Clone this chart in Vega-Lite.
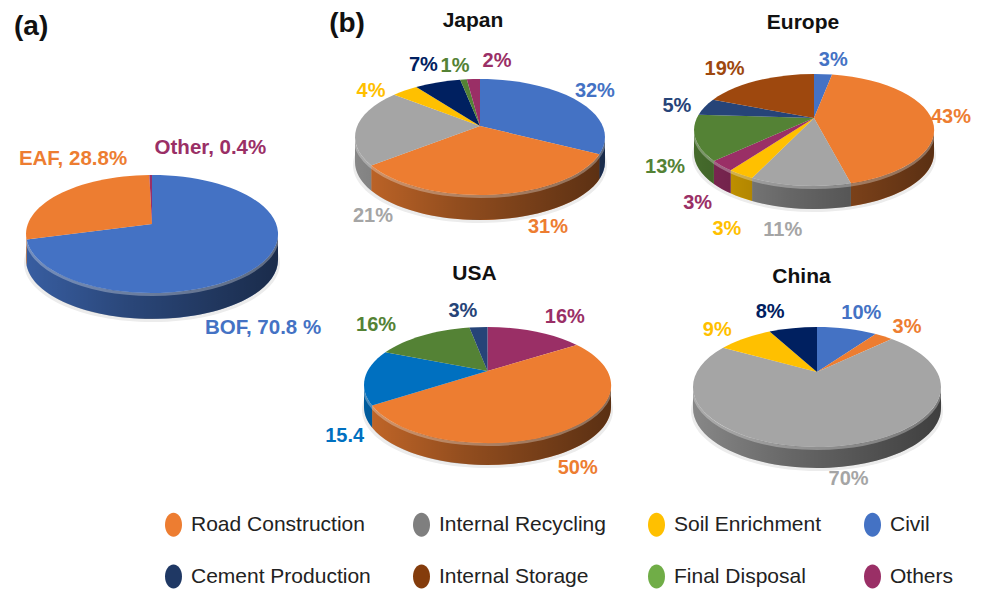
{
"$schema":"https://vega.github.io/schema/vega-lite/v6.json",
"padding":0,"background":"white","spacing":0,
"resolve":{"scale":{"color":"independent"},"legend":{"color":"independent"}},
"config":{"font":"Liberation Sans","view":{"stroke":null},"title":{"font":"Liberation Sans","fontWeight":"bold","color":"#111111"}},
"datasets":{"slices":[
{"panel":"Steel","order":1,"category":"BOF","share":70.8,"label":"BOF, 70.8 %"},
{"panel":"Steel","order":2,"category":"EAF","share":28.8,"label":"EAF, 28.8%"},
{"panel":"Steel","order":3,"category":"Other","share":0.4,"label":"Other, 0.4%"},
{"panel":"Japan","order":1,"category":"Civil","share":32,"label":"32%"},
{"panel":"Japan","order":2,"category":"Road Construction","share":31,"label":"31%"},
{"panel":"Japan","order":3,"category":"Internal Recycling","share":21,"label":"21%"},
{"panel":"Japan","order":4,"category":"Soil Enrichment","share":4,"label":"4%"},
{"panel":"Japan","order":5,"category":"Cement Production","share":7,"label":"7%"},
{"panel":"Japan","order":6,"category":"Final Disposal","share":1,"label":"1%"},
{"panel":"Japan","order":7,"category":"Others","share":2,"label":"2%"},
{"panel":"Europe","order":1,"category":"Civil","share":3,"label":"3%"},
{"panel":"Europe","order":2,"category":"Road Construction","share":43,"label":"43%"},
{"panel":"Europe","order":3,"category":"Internal Recycling","share":11,"label":"11%"},
{"panel":"Europe","order":4,"category":"Soil Enrichment","share":3,"label":"3%"},
{"panel":"Europe","order":5,"category":"Others","share":3,"label":"3%"},
{"panel":"Europe","order":6,"category":"Final Disposal","share":13,"label":"13%"},
{"panel":"Europe","order":7,"category":"Cement Production","share":5,"label":"5%"},
{"panel":"Europe","order":8,"category":"Internal Storage","share":19,"label":"19%"},
{"panel":"USA","order":1,"category":"Others","share":16,"label":"16%"},
{"panel":"USA","order":2,"category":"Road Construction","share":50,"label":"50%"},
{"panel":"USA","order":3,"category":"Unspecified","share":15.4,"label":"15.4"},
{"panel":"USA","order":4,"category":"Final Disposal","share":16,"label":"16%"},
{"panel":"USA","order":5,"category":"Cement Production","share":3,"label":"3%"},
{"panel":"China","order":1,"category":"Civil","share":10,"label":"10%"},
{"panel":"China","order":2,"category":"Road Construction","share":3,"label":"3%"},
{"panel":"China","order":3,"category":"Internal Recycling","share":70,"label":"70%"},
{"panel":"China","order":4,"category":"Soil Enrichment","share":9,"label":"9%"},
{"panel":"China","order":5,"category":"Cement Production","share":8,"label":"8%"}
]},
"vconcat":[
{"spacing":0,"resolve":{"scale":{"color":"independent"},"legend":{"color":"independent"}},"hconcat":[
{"width":324,"height":500,"data":{"name":"slices"},
"title":{"text":"(a)","anchor":"start","frame":"group","fontSize":28,"baseline":"middle","offset":0,"dx":14,"dy":55},
"transform":[
{"filter":"datum.panel=='Steel'"},
{"calculate":"0","as":"origin"},
{"joinaggregate":[{"op":"sum","field":"share","as":"total"}]},
{"window":[{"op":"sum","field":"share","as":"cum"}],"sort":[{"field":"order"}]},
{"calculate":"2*PI*(datum.cum-datum.share)/datum.total","as":"t0"},
{"calculate":"2*PI*datum.cum/datum.total","as":"t1"},
{"calculate":"(datum.t0+datum.t1)/2","as":"mid"},
{"calculate":"(atan2(sin(datum.t0)*sqrt(1-0.17*0.17),cos(datum.t0)+0.17)+2*PI)%(2*PI)","as":"a0"},
{"calculate":"(atan2(sin(datum.t1)*sqrt(1-0.17*0.17),cos(datum.t1)+0.17)+2*PI)%(2*PI)","as":"a1"},
{"calculate":"max(datum.a0,PI/2)","as":"s0"},
{"calculate":"min(datum.a1,3*PI/2)","as":"s1"},
{"calculate":"'M0,-10L'+round(1260*sin(datum.a0))/10+','+round(-590*cos(datum.a0))/10+'A126,59 0 '+(datum.a1-datum.a0>PI?1:0)+' 1 '+round(1260*sin(datum.a1))/10+','+round(-590*cos(datum.a1))/10+'Z'","as":"topPath"},
{"calculate":"'M'+round(1260*sin(datum.s0))/10+','+round(-590*cos(datum.s0))/10+'A126,59 0 0 1 '+round(1260*sin(datum.s1))/10+','+round(-590*cos(datum.s1))/10+'L'+round(1260*sin(datum.s1))/10+','+(round(-590*cos(datum.s1))/10+26)+'A126,59 0 0 0 '+round(1260*sin(datum.s0))/10+','+(round(-590*cos(datum.s0))/10+26)+'Z'","as":"sidePath"},
{"calculate":"{'BOF':[11,58],'EAF':[22,-40],'Other':[60,-27]}[datum.category]","as":"nudge"},
{"calculate":"126*sin(datum.mid)+datum.nudge[0]","as":"lx"},
{"calculate":"-59*cos(datum.mid)+datum.nudge[1]","as":"ly"}
],
"encoding":{
"x":{"field":"origin","type":"quantitative","scale":{"domain":[-152,172],"nice":false,"zero":false},"axis":null},
"y":{"field":"origin","type":"quantitative","scale":{"domain":[266,-234],"nice":false,"zero":false},"axis":null}},
"layer":[
{"transform":[{"aggregate":[{"op":"count","as":"n"}],"groupby":["origin"]}],"mark":{"type":"point","filled":true,"size":4,"opacity":1,"strokeWidth":0,"fill":"#ececec","shape":"M-128,29A128,59 0 1 0 128,29A128,59 0 1 0 -128,29Z"}},
{"transform":[{"filter":"datum.s1>datum.s0"}],"mark":{"type":"point","filled":true,"size":4,"opacity":1,"strokeWidth":0},
"encoding":{"shape":{"field":"sidePath","type":"nominal","scale":null,"legend":null},
"color":{"field":"category","type":"nominal","legend":null,"scale":{"domain":["BOF","EAF","Other"],"range":["#4472C4","#ED7D31","#9A2F66"]}}}},
{"transform":[{"aggregate":[{"op":"count","as":"n"}],"groupby":["origin"]}],"mark":{"type":"point","filled":true,"size":4,"opacity":1,"strokeWidth":0,"shape":"M-126,0A126,59 0 0 0 126,0L126,26A126,59 0 0 1 -126,26Z","fill":{"gradient":"linear","x1":0,"y1":0,"x2":1,"y2":0,"stops":[{"offset":0,"color":"rgba(0,0,0,0.18)"},{"offset":0.4,"color":"rgba(0,0,0,0.38)"},{"offset":1,"color":"rgba(0,0,0,0.62)"}]}}},
{"transform":[{"aggregate":[{"op":"count","as":"n"}],"groupby":["origin"]}],"mark":{"type":"point","filled":false,"size":4,"opacity":0.3,"stroke":"white","strokeWidth":3,"shape":"M-126,1.5A126,59 0 0 0 126,1.5"}},
{"mark":{"type":"point","filled":true,"size":4,"opacity":1,"strokeWidth":0},
"encoding":{"shape":{"field":"topPath","type":"nominal","scale":null,"legend":null},
"color":{"field":"category","type":"nominal","legend":null,"scale":{"domain":["BOF","EAF","Other"],"range":["#4472C4","#ED7D31","#9A2F66"]}}}},
{"mark":{"type":"text","fontSize":20.5,"fontWeight":"bold","align":"center","baseline":"middle"},
"encoding":{"x":{"field":"lx","type":"quantitative"},"y":{"field":"ly","type":"quantitative"},
"text":{"field":"label"},
"color":{"field":"category","type":"nominal","legend":null,"scale":{"domain":["BOF","EAF","Other"],"range":["#4472C4","#ED7D31","#9A2F66"]}}}}
]},
{"spacing":0,"resolve":{"scale":{"color":"independent"},"legend":{"color":"independent"}},"vconcat":[
{"spacing":0,"resolve":{"scale":{"color":"independent"},"legend":{"color":"independent"}},"hconcat":[
{"width":316,"height":254,"data":{"name":"slices"},
"title":{"text":"Japan","anchor":"middle","frame":"group","fontSize":21,"baseline":"middle","offset":0,"dx":-9,"dy":42},
"transform":[
{"filter":"datum.panel=='Japan'"},
{"calculate":"0","as":"origin"},
{"joinaggregate":[{"op":"sum","field":"share","as":"total"}]},
{"window":[{"op":"sum","field":"share","as":"cum"}],"sort":[{"field":"order"}]},
{"calculate":"2*PI*(datum.cum-datum.share)/datum.total","as":"t0"},
{"calculate":"2*PI*datum.cum/datum.total","as":"t1"},
{"calculate":"(datum.t0+datum.t1)/2","as":"mid"},
{"calculate":"(atan2(sin(datum.t0)*sqrt(1-0.19*0.19),cos(datum.t0)+0.19)+2*PI)%(2*PI)","as":"a0"},
{"calculate":"(atan2(sin(datum.t1)*sqrt(1-0.19*0.19),cos(datum.t1)+0.19)+2*PI)%(2*PI)","as":"a1"},
{"calculate":"max(datum.a0,PI/2)","as":"s0"},
{"calculate":"min(datum.a1,3*PI/2)","as":"s1"},
{"calculate":"'M0,-11L'+round(1250*sin(datum.a0))/10+','+round(-580*cos(datum.a0))/10+'A125,58 0 '+(datum.a1-datum.a0>PI?1:0)+' 1 '+round(1250*sin(datum.a1))/10+','+round(-580*cos(datum.a1))/10+'Z'","as":"topPath"},
{"calculate":"'M'+round(1250*sin(datum.s0))/10+','+round(-580*cos(datum.s0))/10+'A125,58 0 0 1 '+round(1250*sin(datum.s1))/10+','+round(-580*cos(datum.s1))/10+'L'+round(1250*sin(datum.s1))/10+','+(round(-580*cos(datum.s1))/10+25)+'A125,58 0 0 0 '+round(1250*sin(datum.s0))/10+','+(round(-580*cos(datum.s0))/10+25)+'Z'","as":"sidePath"},
{"calculate":"{'Civil':[8,-16],'Road Construction':[56,32],'Internal Recycling':[18,79],'Soil Enrichment':[-22,-4],'Cement Production':[-6,-19],'Final Disposal':[-5,-14],'Others':[25,-18]}[datum.category]","as":"nudge"},
{"calculate":"125*sin(datum.mid)+datum.nudge[0]","as":"lx"},
{"calculate":"-58*cos(datum.mid)+datum.nudge[1]","as":"ly"}
],
"encoding":{
"x":{"field":"origin","type":"quantitative","scale":{"domain":[-156,160],"nice":false,"zero":false},"axis":null},
"y":{"field":"origin","type":"quantitative","scale":{"domain":[117,-137],"nice":false,"zero":false},"axis":null}},
"layer":[
{"transform":[{"aggregate":[{"op":"count","as":"n"}],"groupby":["origin"]}],"mark":{"type":"point","filled":true,"size":4,"opacity":1,"strokeWidth":0,"fill":"#ececec","shape":"M-127,28A127,58 0 1 0 127,28A127,58 0 1 0 -127,28Z"}},
{"transform":[{"filter":"datum.s1>datum.s0"}],"mark":{"type":"point","filled":true,"size":4,"opacity":1,"strokeWidth":0},
"encoding":{"shape":{"field":"sidePath","type":"nominal","scale":null,"legend":null},
"color":{"field":"category","type":"nominal","legend":null,"scale":{"domain":["Civil","Road Construction","Internal Recycling","Soil Enrichment","Cement Production","Final Disposal","Others"],"range":["#4472C4","#ED7D31","#A5A5A5","#FFC000","#002060","#548235","#9A2F66"]}}}},
{"transform":[{"aggregate":[{"op":"count","as":"n"}],"groupby":["origin"]}],"mark":{"type":"point","filled":true,"size":4,"opacity":1,"strokeWidth":0,"shape":"M-125,0A125,58 0 0 0 125,0L125,25A125,58 0 0 1 -125,25Z","fill":{"gradient":"linear","x1":0,"y1":0,"x2":1,"y2":0,"stops":[{"offset":0,"color":"rgba(0,0,0,0.18)"},{"offset":0.4,"color":"rgba(0,0,0,0.38)"},{"offset":1,"color":"rgba(0,0,0,0.62)"}]}}},
{"transform":[{"aggregate":[{"op":"count","as":"n"}],"groupby":["origin"]}],"mark":{"type":"point","filled":false,"size":4,"opacity":0.3,"stroke":"white","strokeWidth":3,"shape":"M-125,1.5A125,58 0 0 0 125,1.5"}},
{"mark":{"type":"point","filled":true,"size":4,"opacity":1,"strokeWidth":0},
"encoding":{"shape":{"field":"topPath","type":"nominal","scale":null,"legend":null},
"color":{"field":"category","type":"nominal","legend":null,"scale":{"domain":["Civil","Road Construction","Internal Recycling","Soil Enrichment","Cement Production","Final Disposal","Others"],"range":["#4472C4","#ED7D31","#A5A5A5","#FFC000","#002060","#548235","#9A2F66"]}}}},
{"mark":{"type":"text","fontSize":20,"fontWeight":"bold","align":"center","baseline":"middle"},
"encoding":{"x":{"field":"lx","type":"quantitative"},"y":{"field":"ly","type":"quantitative"},
"text":{"field":"label"},
"color":{"field":"category","type":"nominal","legend":null,"scale":{"domain":["Civil","Road Construction","Internal Recycling","Soil Enrichment","Cement Production","Final Disposal","Others"],"range":["#4472C4","#ED7D31","#A5A5A5","#FFC000","#002060","#548235","#9A2F66"]}}}},
{"transform":[{"aggregate":[{"op":"count","as":"n"}],"groupby":["origin"]}],"mark":{"type":"text","text":"(b)","fontSize":28,"fontWeight":"bold","color":"#111111","align":"center","baseline":"middle","dx":-133,"dy":-113}}
]},
{"width":344,"height":254,"data":{"name":"slices"},
"title":{"text":"Europe","anchor":"middle","frame":"group","fontSize":21,"baseline":"middle","offset":0,"dx":-9,"dy":44},
"transform":[
{"filter":"datum.panel=='Europe'"},
{"calculate":"0","as":"origin"},
{"joinaggregate":[{"op":"sum","field":"share","as":"total"}]},
{"window":[{"op":"sum","field":"share","as":"cum"}],"sort":[{"field":"order"}]},
{"calculate":"2*PI*(datum.cum-datum.share)/datum.total","as":"t0"},
{"calculate":"2*PI*datum.cum/datum.total","as":"t1"},
{"calculate":"(datum.t0+datum.t1)/2","as":"mid"},
{"calculate":"(atan2(sin(datum.t0)*sqrt(1-0.214*0.214),cos(datum.t0)+0.214)+2*PI)%(2*PI)","as":"a0"},
{"calculate":"(atan2(sin(datum.t1)*sqrt(1-0.214*0.214),cos(datum.t1)+0.214)+2*PI)%(2*PI)","as":"a1"},
{"calculate":"max(datum.a0,PI/2)","as":"s0"},
{"calculate":"min(datum.a1,3*PI/2)","as":"s1"},
{"calculate":"'M0,-12L'+round(1200*sin(datum.a0))/10+','+round(-560*cos(datum.a0))/10+'A120,56 0 '+(datum.a1-datum.a0>PI?1:0)+' 1 '+round(1200*sin(datum.a1))/10+','+round(-560*cos(datum.a1))/10+'Z'","as":"topPath"},
{"calculate":"'M'+round(1200*sin(datum.s0))/10+','+round(-560*cos(datum.s0))/10+'A120,56 0 0 1 '+round(1200*sin(datum.s1))/10+','+round(-560*cos(datum.s1))/10+'L'+round(1200*sin(datum.s1))/10+','+(round(-560*cos(datum.s1))/10+23)+'A120,56 0 0 0 '+round(1200*sin(datum.s0))/10+','+(round(-560*cos(datum.s0))/10+23)+'Z'","as":"sidePath"},
{"calculate":"{'Civil':[8,-14],'Road Construction':[17,-11],'Internal Recycling':[-20,44],'Soil Enrichment':[-26,51],'Others':[-37,31],'Final Disposal':[-36,18],'Cement Production':[-20,-12],'Internal Storage':[-22,-15]}[datum.category]","as":"nudge"},
{"calculate":"120*sin(datum.mid)+datum.nudge[0]","as":"lx"},
{"calculate":"-56*cos(datum.mid)+datum.nudge[1]","as":"ly"}
],
"encoding":{
"x":{"field":"origin","type":"quantitative","scale":{"domain":[-174,170],"nice":false,"zero":false},"axis":null},
"y":{"field":"origin","type":"quantitative","scale":{"domain":[124,-130],"nice":false,"zero":false},"axis":null}},
"layer":[
{"transform":[{"aggregate":[{"op":"count","as":"n"}],"groupby":["origin"]}],"mark":{"type":"point","filled":true,"size":4,"opacity":1,"strokeWidth":0,"fill":"#ececec","shape":"M-122,26A122,56 0 1 0 122,26A122,56 0 1 0 -122,26Z"}},
{"transform":[{"filter":"datum.s1>datum.s0"}],"mark":{"type":"point","filled":true,"size":4,"opacity":1,"strokeWidth":0},
"encoding":{"shape":{"field":"sidePath","type":"nominal","scale":null,"legend":null},
"color":{"field":"category","type":"nominal","legend":null,"scale":{"domain":["Civil","Road Construction","Internal Recycling","Soil Enrichment","Others","Final Disposal","Cement Production","Internal Storage"],"range":["#4472C4","#ED7D31","#A5A5A5","#FFC000","#9A2F66","#548235","#264478","#9E480E"]}}}},
{"transform":[{"aggregate":[{"op":"count","as":"n"}],"groupby":["origin"]}],"mark":{"type":"point","filled":true,"size":4,"opacity":1,"strokeWidth":0,"shape":"M-120,0A120,56 0 0 0 120,0L120,23A120,56 0 0 1 -120,23Z","fill":{"gradient":"linear","x1":0,"y1":0,"x2":1,"y2":0,"stops":[{"offset":0,"color":"rgba(0,0,0,0.18)"},{"offset":0.4,"color":"rgba(0,0,0,0.38)"},{"offset":1,"color":"rgba(0,0,0,0.62)"}]}}},
{"transform":[{"aggregate":[{"op":"count","as":"n"}],"groupby":["origin"]}],"mark":{"type":"point","filled":false,"size":4,"opacity":0.3,"stroke":"white","strokeWidth":3,"shape":"M-120,1.5A120,56 0 0 0 120,1.5"}},
{"mark":{"type":"point","filled":true,"size":4,"opacity":1,"strokeWidth":0},
"encoding":{"shape":{"field":"topPath","type":"nominal","scale":null,"legend":null},
"color":{"field":"category","type":"nominal","legend":null,"scale":{"domain":["Civil","Road Construction","Internal Recycling","Soil Enrichment","Others","Final Disposal","Cement Production","Internal Storage"],"range":["#4472C4","#ED7D31","#A5A5A5","#FFC000","#9A2F66","#548235","#264478","#9E480E"]}}}},
{"mark":{"type":"text","fontSize":20,"fontWeight":"bold","align":"center","baseline":"middle"},
"encoding":{"x":{"field":"lx","type":"quantitative"},"y":{"field":"ly","type":"quantitative"},
"text":{"field":"label"},
"color":{"field":"category","type":"nominal","legend":null,"scale":{"domain":["Civil","Road Construction","Internal Recycling","Soil Enrichment","Others","Final Disposal","Cement Production","Internal Storage"],"range":["#4472C4","#ED7D31","#A5A5A5","#FFC000","#9A2F66","#548235","#264478","#9E480E"]}}}}
]}
]},
{"spacing":0,"resolve":{"scale":{"color":"independent"},"legend":{"color":"independent"}},"hconcat":[
{"width":347,"height":246,"data":{"name":"slices"},
"title":{"text":"USA","anchor":"middle","frame":"group","fontSize":21,"baseline":"middle","offset":0,"dx":-23,"dy":41},
"transform":[
{"filter":"datum.panel=='USA'"},
{"calculate":"0","as":"origin"},
{"joinaggregate":[{"op":"sum","field":"share","as":"total"}]},
{"window":[{"op":"sum","field":"share","as":"cum"}],"sort":[{"field":"order"}]},
{"calculate":"2*PI*(datum.cum-datum.share)/datum.total","as":"t0"},
{"calculate":"2*PI*datum.cum/datum.total","as":"t1"},
{"calculate":"(datum.t0+datum.t1)/2","as":"mid"},
{"calculate":"(atan2(sin(datum.t0)*sqrt(1-0.241*0.241),cos(datum.t0)+0.241)+2*PI)%(2*PI)","as":"a0"},
{"calculate":"(atan2(sin(datum.t1)*sqrt(1-0.241*0.241),cos(datum.t1)+0.241)+2*PI)%(2*PI)","as":"a1"},
{"calculate":"max(datum.a0,PI/2)","as":"s0"},
{"calculate":"min(datum.a1,3*PI/2)","as":"s1"},
{"calculate":"'M0,-14L'+round(1235*sin(datum.a0))/10+','+round(-580*cos(datum.a0))/10+'A123.5,58 0 '+(datum.a1-datum.a0>PI?1:0)+' 1 '+round(1235*sin(datum.a1))/10+','+round(-580*cos(datum.a1))/10+'Z'","as":"topPath"},
{"calculate":"'M'+round(1235*sin(datum.s0))/10+','+round(-580*cos(datum.s0))/10+'A123.5,58 0 0 1 '+round(1235*sin(datum.s1))/10+','+round(-580*cos(datum.s1))/10+'L'+round(1235*sin(datum.s1))/10+','+(round(-580*cos(datum.s1))/10+22)+'A123.5,58 0 0 0 '+round(1235*sin(datum.s0))/10+','+(round(-580*cos(datum.s0))/10+22)+'Z'","as":"sidePath"},
{"calculate":"{'Others':[18,-17],'Road Construction':[23,34],'Unspecified':[-20,45],'Final Disposal':[-33,-15],'Cement Production':[-13,-16]}[datum.category]","as":"nudge"},
{"calculate":"123.5*sin(datum.mid)+datum.nudge[0]","as":"lx"},
{"calculate":"-58*cos(datum.mid)+datum.nudge[1]","as":"ly"}
],
"encoding":{
"x":{"field":"origin","type":"quantitative","scale":{"domain":[-163.5,183.5],"nice":false,"zero":false},"axis":null},
"y":{"field":"origin","type":"quantitative","scale":{"domain":[115,-131],"nice":false,"zero":false},"axis":null}},
"layer":[
{"transform":[{"aggregate":[{"op":"count","as":"n"}],"groupby":["origin"]}],"mark":{"type":"point","filled":true,"size":4,"opacity":1,"strokeWidth":0,"fill":"#ececec","shape":"M-125.5,25A125.5,58 0 1 0 125.5,25A125.5,58 0 1 0 -125.5,25Z"}},
{"transform":[{"filter":"datum.s1>datum.s0"}],"mark":{"type":"point","filled":true,"size":4,"opacity":1,"strokeWidth":0},
"encoding":{"shape":{"field":"sidePath","type":"nominal","scale":null,"legend":null},
"color":{"field":"category","type":"nominal","legend":null,"scale":{"domain":["Others","Road Construction","Unspecified","Final Disposal","Cement Production"],"range":["#9A2F66","#ED7D31","#0070C0","#548235","#264478"]}}}},
{"transform":[{"aggregate":[{"op":"count","as":"n"}],"groupby":["origin"]}],"mark":{"type":"point","filled":true,"size":4,"opacity":1,"strokeWidth":0,"shape":"M-123.5,0A123.5,58 0 0 0 123.5,0L123.5,22A123.5,58 0 0 1 -123.5,22Z","fill":{"gradient":"linear","x1":0,"y1":0,"x2":1,"y2":0,"stops":[{"offset":0,"color":"rgba(0,0,0,0.18)"},{"offset":0.4,"color":"rgba(0,0,0,0.38)"},{"offset":1,"color":"rgba(0,0,0,0.62)"}]}}},
{"transform":[{"aggregate":[{"op":"count","as":"n"}],"groupby":["origin"]}],"mark":{"type":"point","filled":false,"size":4,"opacity":0.3,"stroke":"white","strokeWidth":3,"shape":"M-123.5,1.5A123.5,58 0 0 0 123.5,1.5"}},
{"mark":{"type":"point","filled":true,"size":4,"opacity":1,"strokeWidth":0},
"encoding":{"shape":{"field":"topPath","type":"nominal","scale":null,"legend":null},
"color":{"field":"category","type":"nominal","legend":null,"scale":{"domain":["Others","Road Construction","Unspecified","Final Disposal","Cement Production"],"range":["#9A2F66","#ED7D31","#0070C0","#548235","#264478"]}}}},
{"mark":{"type":"text","fontSize":20,"fontWeight":"bold","align":"center","baseline":"middle"},
"encoding":{"x":{"field":"lx","type":"quantitative"},"y":{"field":"ly","type":"quantitative"},
"text":{"field":"label"},
"color":{"field":"category","type":"nominal","legend":null,"scale":{"domain":["Others","Road Construction","Unspecified","Final Disposal","Cement Production"],"range":["#9A2F66","#ED7D31","#0070C0","#548235","#264478"]}}}}
]},
{"width":313,"height":246,"data":{"name":"slices"},
"title":{"text":"China","anchor":"middle","frame":"group","fontSize":21,"baseline":"middle","offset":0,"dx":-26,"dy":44},
"transform":[
{"filter":"datum.panel=='China'"},
{"calculate":"0","as":"origin"},
{"joinaggregate":[{"op":"sum","field":"share","as":"total"}]},
{"window":[{"op":"sum","field":"share","as":"cum"}],"sort":[{"field":"order"}]},
{"calculate":"2*PI*(datum.cum-datum.share)/datum.total","as":"t0"},
{"calculate":"2*PI*datum.cum/datum.total","as":"t1"},
{"calculate":"(datum.t0+datum.t1)/2","as":"mid"},
{"calculate":"(atan2(sin(datum.t0)*sqrt(1-0.25*0.25),cos(datum.t0)+0.25)+2*PI)%(2*PI)","as":"a0"},
{"calculate":"(atan2(sin(datum.t1)*sqrt(1-0.25*0.25),cos(datum.t1)+0.25)+2*PI)%(2*PI)","as":"a1"},
{"calculate":"max(datum.a0,PI/2)","as":"s0"},
{"calculate":"min(datum.a1,3*PI/2)","as":"s1"},
{"calculate":"'M0,-15L'+round(1240*sin(datum.a0))/10+','+round(-600*cos(datum.a0))/10+'A124,60 0 '+(datum.a1-datum.a0>PI?1:0)+' 1 '+round(1240*sin(datum.a1))/10+','+round(-600*cos(datum.a1))/10+'Z'","as":"topPath"},
{"calculate":"'M'+round(1240*sin(datum.s0))/10+','+round(-600*cos(datum.s0))/10+'A124,60 0 0 1 '+round(1240*sin(datum.s1))/10+','+round(-600*cos(datum.s1))/10+'L'+round(1240*sin(datum.s1))/10+','+(round(-600*cos(datum.s1))/10+21)+'A124,60 0 0 0 '+round(1240*sin(datum.s0))/10+','+(round(-600*cos(datum.s0))/10+21)+'Z'","as":"sidePath"},
{"calculate":"{'Civil':[6,-17],'Road Construction':[8,-15],'Internal Recycling':[16,32],'Soil Enrichment':[-12,-15],'Cement Production':[-16,-17]}[datum.category]","as":"nudge"},
{"calculate":"124*sin(datum.mid)+datum.nudge[0]","as":"lx"},
{"calculate":"-60*cos(datum.mid)+datum.nudge[1]","as":"ly"}
],
"encoding":{
"x":{"field":"origin","type":"quantitative","scale":{"domain":[-146,167],"nice":false,"zero":false},"axis":null},
"y":{"field":"origin","type":"quantitative","scale":{"domain":[113,-133],"nice":false,"zero":false},"axis":null}},
"layer":[
{"transform":[{"aggregate":[{"op":"count","as":"n"}],"groupby":["origin"]}],"mark":{"type":"point","filled":true,"size":4,"opacity":1,"strokeWidth":0,"fill":"#ececec","shape":"M-126,24A126,60 0 1 0 126,24A126,60 0 1 0 -126,24Z"}},
{"transform":[{"filter":"datum.s1>datum.s0"}],"mark":{"type":"point","filled":true,"size":4,"opacity":1,"strokeWidth":0},
"encoding":{"shape":{"field":"sidePath","type":"nominal","scale":null,"legend":null},
"color":{"field":"category","type":"nominal","legend":null,"scale":{"domain":["Civil","Road Construction","Internal Recycling","Soil Enrichment","Cement Production"],"range":["#4472C4","#ED7D31","#A5A5A5","#FFC000","#002060"]}}}},
{"transform":[{"aggregate":[{"op":"count","as":"n"}],"groupby":["origin"]}],"mark":{"type":"point","filled":true,"size":4,"opacity":1,"strokeWidth":0,"shape":"M-124,0A124,60 0 0 0 124,0L124,21A124,60 0 0 1 -124,21Z","fill":{"gradient":"linear","x1":0,"y1":0,"x2":1,"y2":0,"stops":[{"offset":0,"color":"rgba(0,0,0,0.18)"},{"offset":0.4,"color":"rgba(0,0,0,0.38)"},{"offset":1,"color":"rgba(0,0,0,0.62)"}]}}},
{"transform":[{"aggregate":[{"op":"count","as":"n"}],"groupby":["origin"]}],"mark":{"type":"point","filled":false,"size":4,"opacity":0.3,"stroke":"white","strokeWidth":3,"shape":"M-124,1.5A124,60 0 0 0 124,1.5"}},
{"mark":{"type":"point","filled":true,"size":4,"opacity":1,"strokeWidth":0},
"encoding":{"shape":{"field":"topPath","type":"nominal","scale":null,"legend":null},
"color":{"field":"category","type":"nominal","legend":null,"scale":{"domain":["Civil","Road Construction","Internal Recycling","Soil Enrichment","Cement Production"],"range":["#4472C4","#ED7D31","#A5A5A5","#FFC000","#002060"]}}}},
{"mark":{"type":"text","fontSize":20,"fontWeight":"bold","align":"center","baseline":"middle"},
"encoding":{"x":{"field":"lx","type":"quantitative"},"y":{"field":"ly","type":"quantitative"},
"text":{"field":"label"},
"color":{"field":"category","type":"nominal","legend":null,"scale":{"domain":["Civil","Road Construction","Internal Recycling","Soil Enrichment","Cement Production"],"range":["#4472C4","#ED7D31","#A5A5A5","#FFC000","#002060"]}}}}
]}
]}
]}
]},
{"width":984,"height":90,
"data":{"values":[{"category":"Road Construction"},{"category":"Internal Recycling"},{"category":"Soil Enrichment"},{"category":"Civil"},{"category":"Cement Production"},{"category":"Internal Storage"},{"category":"Final Disposal"},{"category":"Others"}]},
"mark":{"type":"point","filled":true,"size":0},
"encoding":{"color":{"field":"category","type":"nominal","sort":null,
"scale":{"domain":["Road Construction","Internal Recycling","Soil Enrichment","Civil","Cement Production","Internal Storage","Final Disposal","Others"],"range":["#ED7D31","#7F7F7F","#FFC000","#4472C4","#1F3864","#843C0C","#70AD47","#9A2F66"]},
"legend":{"title":null,"orient":"none","legendX":163,"legendY":14,"direction":"horizontal","columns":4,"symbolType":"M-8.5,0A8.5,12 0 1 1 8.5,0A8.5,12 0 1 1 -8.5,0Z","symbolSize":4,"symbolOpacity":1,"symbolStrokeWidth":0,"labelFont":"Liberation Sans","labelFontSize":21,"labelColor":"#222222","labelOffset":7,"columnPadding":40,"rowPadding":27,"labelLimit":300}}}}
]
}
